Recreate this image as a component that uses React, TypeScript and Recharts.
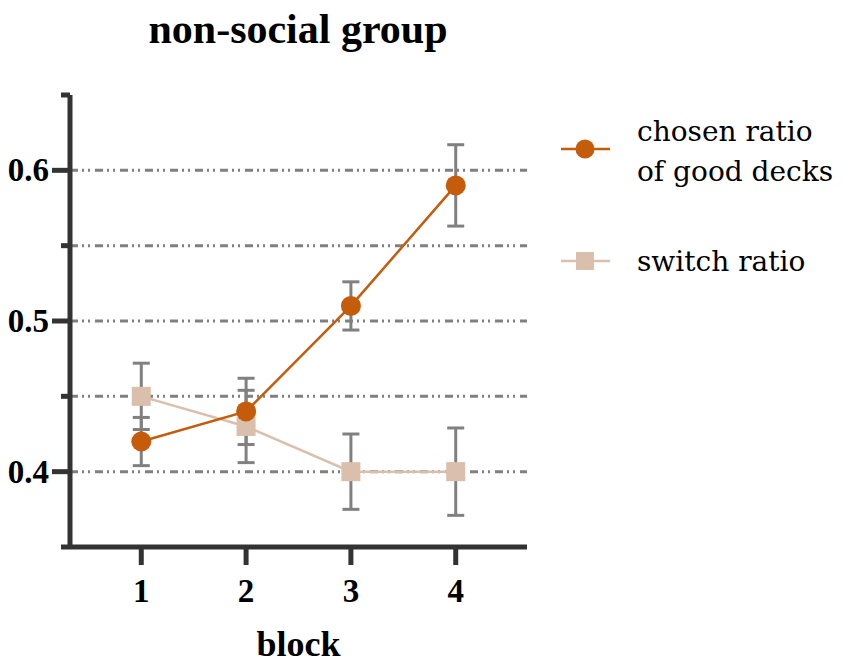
import React from 'react';
import {
  ComposedChart,
  Line,
  ErrorBar,
  XAxis,
  YAxis,
  ReferenceLine,
} from 'recharts';

// Blocks and series values
const BLOCKS = [1, 2, 3, 4];
const CHOSEN_RATIO = [0.42, 0.44, 0.51, 0.59];
const CHOSEN_ERR = [0.016, 0.022, 0.016, 0.027];
const SWITCH_RATIO = [0.45, 0.43, 0.4, 0.4];
const SWITCH_ERR = [0.022, 0.024, 0.025, 0.029];

const Y_TICKS = [0.35, 0.4, 0.45, 0.5, 0.55, 0.6, 0.65];
const Y_LABELED = [0.4, 0.5, 0.6];
const GRID_VALUES = [0.4, 0.45, 0.5, 0.55, 0.6];

const CHOSEN_COLOR = '#c45c0c';
const SWITCH_COLOR = '#dbbfad';
const AXIS_COLOR = '#333333';
const ERR_COLOR = '#808080';
const FONT = '"Liberation Serif", "Times New Roman", serif';
// regular Liberation Serif is not picked up here, DejaVu Serif is the closest serif
const FONT_REGULAR = '"DejaVu Serif", serif';

const data = BLOCKS.map((b, i) => ({
  block: b,
  chosen: CHOSEN_RATIO[i],
  chosenErr: CHOSEN_ERR[i],
  switchR: SWITCH_RATIO[i],
  switchErr: SWITCH_ERR[i],
}));

const YTick = (props: any) => {
  const { x, y, payload } = props;
  const major = Y_LABELED.some((v) => Math.abs(v - payload.value) < 1e-6);
  return (
    <g>
      <line
        x1={x - (major ? 18 : 9)}
        x2={x}
        y1={y}
        y2={y}
        stroke={AXIS_COLOR}
        strokeWidth={5}
      />
      {major && (
        <text
          x={x - 21}
          y={y}
          dy={11}
          textAnchor="end"
          fontFamily={FONT}
          fontWeight="bold"
          fontSize={33}
          fill="#000"
        >
          {payload.value.toFixed(1)}
        </text>
      )}
    </g>
  );
};

const legendLabel: React.CSSProperties = {
  position: 'absolute',
  left: 637,
  fontFamily: FONT_REGULAR,
  fontWeight: 400,
  fontSize: 28,
  lineHeight: '40px',
  color: '#000',
  whiteSpace: 'nowrap',
};

// legend drawn by hand so it does not shrink the plot area
const ChartLegend = () => (
  <>
    <svg
      width={60}
      height={200}
      style={{ position: 'absolute', left: 550, top: 100 }}
    >
      <line x1={11} x2={60} y1={49} y2={49} stroke={CHOSEN_COLOR} strokeWidth={2.5} />
      <circle cx={35} cy={49} r={9.5} fill={CHOSEN_COLOR} />
      <line x1={11} x2={60} y1={161} y2={161} stroke={SWITCH_COLOR} strokeWidth={2.5} />
      <rect x={26} y={152} width={18} height={18} fill={SWITCH_COLOR} />
    </svg>
    <div style={{ ...legendLabel, top: 112 }}>
      chosen ratio
      <br />
      of good decks
    </div>
    <div style={{ ...legendLabel, top: 242 }}>switch ratio</div>
  </>
);

export default function App() {
  return (
    <div style={{ position: 'absolute', left: 0, top: 0, width: 851, height: 669, background: '#fff' }}>
      <div
        style={{
          position: 'absolute',
          left: 0,
          width: 596,
          top: 0,
          textAlign: 'center',
          fontFamily: FONT,
          fontWeight: 'bold',
          fontSize: 42,
          lineHeight: '58px',
          color: '#000',
        }}
      >
        non-social group
      </div>
      <ComposedChart
        width={851}
        height={669}
        data={data}
        margin={{ top: 95, right: 324, bottom: 0, left: 0 }}
      >
        {GRID_VALUES.map((v) => (
          <ReferenceLine
            key={v}
            y={v}
            stroke={ERR_COLOR}
            strokeWidth={3}
            strokeDasharray="8 4 2 4 2 5"
          />
        ))}
        <XAxis
          dataKey="block"
          type="number"
          domain={[0.32, 4.68]}
          ticks={BLOCKS}
          allowDataOverflow
          height={122}
          axisLine={{ stroke: AXIS_COLOR, strokeWidth: 5 }}
          tickLine={{ stroke: AXIS_COLOR, strokeWidth: 5 }}
          tickSize={18}
          tickMargin={14}
          tick={{ fontFamily: FONT, fontWeight: 'bold', fontSize: 33, fill: '#000' }}
          label={{
            value: 'block',
            position: 'insideBottom',
            offset: 13,
            style: { fontFamily: FONT, fontWeight: 'bold', fontSize: 36, fill: '#000' },
          }}
        />
        <YAxis
          type="number"
          domain={[0.35, 0.65]}
          ticks={Y_TICKS}
          allowDataOverflow
          width={70}
          axisLine={{ stroke: AXIS_COLOR, strokeWidth: 5 }}
          tickLine={false}
          tickSize={0}
          tickMargin={0}
          tick={<YTick />}
          interval={0}
        />
        <Line
          dataKey="switchR"
          stroke={SWITCH_COLOR}
          strokeWidth={2.5}
          isAnimationActive={false}
          dot={(p: any) => (
            <rect key={`s${p.index}`} x={p.cx - 9.5} y={p.cy - 9.5} width={19} height={19} fill={SWITCH_COLOR} />
          )}
          activeDot={false}
        >
          <ErrorBar dataKey="switchErr" width={8.5} stroke={ERR_COLOR} strokeWidth={3} direction="y" />
        </Line>
        <Line
          dataKey="chosen"
          stroke={CHOSEN_COLOR}
          strokeWidth={2.5}
          isAnimationActive={false}
          dot={{ r: 10, fill: CHOSEN_COLOR, stroke: 'none' }}
          activeDot={false}
        >
          <ErrorBar dataKey="chosenErr" width={8.5} stroke={ERR_COLOR} strokeWidth={3} direction="y" />
        </Line>
      </ComposedChart>
      <ChartLegend />
    </div>
  );
}
